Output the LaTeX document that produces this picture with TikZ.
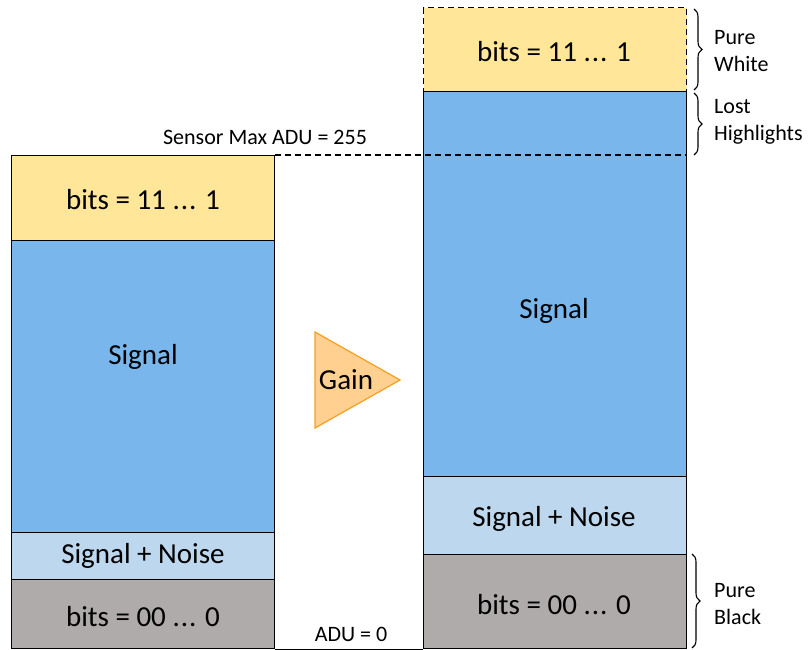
\documentclass[tikz,border=0pt]{standalone}
\usepackage{fontspec}
\setmainfont{Carlito}
\usetikzlibrary{decorations.pathreplacing}
\definecolor{cyel}{HTML}{FFE699}
\definecolor{cblue}{HTML}{78B6EB}
\definecolor{clblue}{HTML}{BDD7EE}
\definecolor{cgrey}{HTML}{AFABAB}
\definecolor{corfill}{HTML}{FFD08F}
\definecolor{corline}{HTML}{F5A228}
\tikzset{
  box/.style={draw=black, line width=1.3pt, inner sep=0pt, anchor=north west, minimum width=263pt},
  big/.style={font=\fontsize{29}{35}\selectfont, inner sep=0pt},
  small/.style={font=\fontsize{22}{27}\selectfont, inner sep=0pt},
  side/.style={font=\fontsize{22}{27}\selectfont, inner sep=0pt, align=left, anchor=west},
  dash line/.style={line width=1.4pt, dash pattern=on 6pt off 4pt},
  bracestyle/.style={decorate, decoration={brace, amplitude=8pt}, line width=1.1pt},
}
\newcommand{\dts}{.\kern1pt.\kern1pt.}
\begin{document}
\begin{tikzpicture}[x=1pt,y=-1pt]
\useasboundingbox (0,0) rectangle (808,650);
% left column
\node[box, fill=cyel,   minimum height=85pt]  (ly) at (11,155) {};
\node[box, fill=cblue,  minimum height=292pt] (lb) at (11,240) {};
\node[box, fill=clblue, minimum height=47pt]  (ln) at (11,532) {};
\node[box, fill=cgrey,  minimum height=69pt]  (lg) at (11,579) {};
\node[big] (tly) at (143,200) {bits = 11 \dts{} 1};
\node[big] (tlb) at (143,357) {Signal};
\node[big] (tln) at (143,556) {Signal + Noise};
\node[big] (tlg) at (143,617) {bits = 00 \dts{} 0};
% right column
\node[box, fill=cyel, draw=black, dash line, minimum height=84pt] (ry) at (423,7) {};
\node[box, fill=cblue,  minimum height=385pt] (rb) at (423,91) {};
\node[box, fill=clblue, minimum height=78pt]  (rn) at (423,476) {};
\node[box, fill=cgrey,  minimum height=94pt]  (rg) at (423,554) {};
\node[big] (try) at (554,52) {bits = 11 \dts{} 1};
\node[big] (trb) at (554,311) {Signal};
\node[big] (trn) at (554,519) {Signal + Noise};
\node[big] (trg) at (554,605) {bits = 00 \dts{} 0};
% reference lines
\coordinate (maxR) at (rb.east |- ly.north east);
\draw[dash line] (ly.north east) -- (maxR);
\draw[line width=1.3pt] (lg.south east) -- (rg.south west);
\node[small] (smax) at (265,137) {Sensor Max ADU = 255};
\node[small] (azero) at (351,634) {ADU = 0};
% gain
\draw[fill=corfill, draw=corline, line width=1.3pt] (315,332) -- (400,380) -- (315,428) -- cycle;
\node[big] (gain) at (346,380) {Gain};
% braces
\coordinate (b1t) at (694,9);
\coordinate (b1b) at (694,90);
\coordinate (b2t) at (694,93);
\coordinate (b2b) at (694,155);
\coordinate (b3t) at (692,554);
\coordinate (b3b) at (692,648);
\draw[bracestyle] (b1t) -- (b1b);
\draw[bracestyle] (b2t) -- (b2b);
\draw[bracestyle] (b3t) -- (b3b);
\node[side] (pw) at (714,51) {Pure\\White};
\node[side] (lh) at (714,122) {Lost\\Highlights};
\node[side] (pb) at (714,604) {Pure\\Black};
\end{tikzpicture}
\end{document}
